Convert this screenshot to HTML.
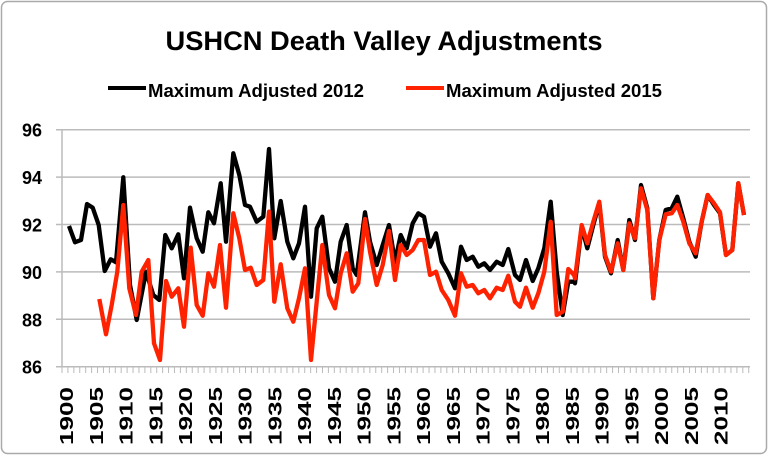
<!DOCTYPE html>
<html><head><meta charset="utf-8"><style>
html,body{margin:0;padding:0;background:#fff;}
svg{display:block;font-family:"Liberation Sans",sans-serif;font-weight:bold;}
</style></head><body>
<svg id="s" width="768" height="455" viewBox="0 0 768 455" xmlns="http://www.w3.org/2000/svg">
<rect x="1.5" y="1.5" width="765" height="452" rx="6" fill="#fff" stroke="#aaa" stroke-width="1.5"/>
<text x="384" y="50" text-anchor="middle" font-size="27" textLength="437" lengthAdjust="spacingAndGlyphs">USHCN Death Valley Adjustments</text>
<line x1="108" y1="88" x2="146" y2="88" stroke="#000" stroke-width="4"/>
<text x="148" y="97" font-size="18" textLength="216" lengthAdjust="spacingAndGlyphs">Maximum Adjusted 2012</text>
<line x1="406" y1="88" x2="444" y2="88" stroke="#ff2200" stroke-width="4"/>
<text x="446" y="97" font-size="18" textLength="216" lengthAdjust="spacingAndGlyphs">Maximum Adjusted 2015</text>
<g id="grid" stroke="#bbb" stroke-width="1.5"></g>
<g id="lab" font-size="18" text-anchor="end"></g>
<g id="xl" font-size="18"></g>
<g id="data" fill="none" stroke-width="4.3" stroke-linejoin="round"></g>
</svg>
<script>
var NS="http://www.w3.org/2000/svg";
function el(p,t,a,txt){var e=document.createElementNS(NS,t);for(var k in a)e.setAttribute(k,a[k]);if(txt)e.textContent=txt;p.appendChild(e);return e;}
var g=document.getElementById('grid'),lab=document.getElementById('lab'),xl=document.getElementById('xl'),d=document.getElementById('data');
for(var i=0;i<6;i++){var y=366.7-i*47.4;el(g,'line',{x1:56,y1:y,x2:750,y2:y});el(lab,'text',{x:42,y:y+7},String(86+2*i));}
el(g,'line',{x1:62,y1:129,x2:62,y2:367});
for(var i=0;i<=116;i++){var x=62+i*5.92;el(g,'line',{x1:x,y1:367,x2:x,y2:373,'stroke-width':1});}
for(var yr=1900;yr<=2010;yr+=5){var x=67+(yr-1900)*5.95+6;el(xl,'text',{x:0,y:0,transform:'translate('+x+',445) rotate(-90)',textLength:58,lengthAdjust:'spacingAndGlyphs'},String(yr));}
function conv(arr,off){return arr.map(function(p){return (off+p[0]/3).toFixed(1)+','+(125+p[1]/3).toFixed(1);});}
var b4=[[27,303],[45,352],[63,345],[81,237],[98,248],[116,300],[134,438],[152,403],[168,412],[190,157],[210,480],[230,585],[258,440],[280,510],[298,525],[316,330],[335,370],[355,328],[372,460],[390,248],[410,340],[428,380],[445,262],[462,295],[482,175],[498,350]];
var b5=[[10,85],[28,150],[45,240],[60,245],[80,290],[100,275],[117,72],[133,340],[152,228],[172,350],[190,400],[207,355],[225,245],[243,515],[260,310],[277,275],[297,430],[315,470],[332,350],[350,300],[368,430],[380,450],[405,262],[420,350],[440,420],[458,360],[477,300],[495,410],[512,330],[530,370]];
var b6=[[38,295],[55,265],[72,275],[90,365],[108,325],[125,410],[145,445],[165,490],[183,365],[200,405],[218,395],[235,425],[253,415],[270,435],[290,410],[308,420],[325,372],[345,450],[360,465],[378,405],[398,468],[415,430],[433,370],[452,230],[470,440],[488,570],[505,470],[522,470]];
var b7=[[15,475],[35,305],[52,370],[70,300],[88,235],[105,395],[123,445],[143,345],[160,435],[178,285],[195,345],[213,180],[232,250],[250,520],[268,345],[287,255],[305,250],[322,215],[340,280],[358,350],[377,395],[395,290],[413,210],[432,240],[450,265],[468,390],[487,375],[505,175],[522,270]];
var r4=[[118,522],[138,628],[155,540],[172,440],[190,240],[208,490],[228,570],[245,440],[265,405],[282,655],[300,705],[318,468],[335,515],[355,490],[372,605],[392,368],[410,540],[428,572],[445,445],[462,485],[480,360],[498,548]];
var r5=[[10,265],[28,340],[45,435],[62,428],[80,480],[100,465],[117,260],[133,530],[152,418],[172,550],[190,590],[207,520],[225,430],[243,705],[260,530],[277,360],[297,510],[315,550],[332,445],[350,385],[368,500],[385,475],[405,282],[420,380],[440,480],[458,420],[477,318],[495,465],[512,360],[530,390]];
var r6=[[38,375],[55,345],[72,345],[90,450],[108,440],[125,495],[145,525],[165,572],[183,445],[200,485],[218,480],[235,505],[253,495],[270,520],[290,488],[308,495],[325,452],[345,530],[360,545],[378,488],[398,548],[415,505],[433,440],[452,290],[470,570],[488,560],[505,432],[522,450]];
var r7=[[15,460],[35,300],[52,355],[70,290],[88,230],[105,390],[123,440],[143,355],[160,435],[178,295],[195,340],[213,190],[232,255],[250,520],[268,345],[287,268],[305,265],[322,240],[340,290],[358,355],[377,385],[395,290],[413,210],[432,235],[450,262],[468,390],[487,375],[505,175],[522,270]];
var bp=conv(b4,60).concat(conv(b5,230),conv(b6,400),conv(b7,570));
var rp=conv(r4,60).concat(conv(r5,230),conv(r6,400),conv(r7,570));
el(d,'polyline',{points:bp.join(' '),stroke:'#000'});
el(d,'polyline',{points:rp.join(' '),stroke:'#ff2200'});
</script>
</body></html>
